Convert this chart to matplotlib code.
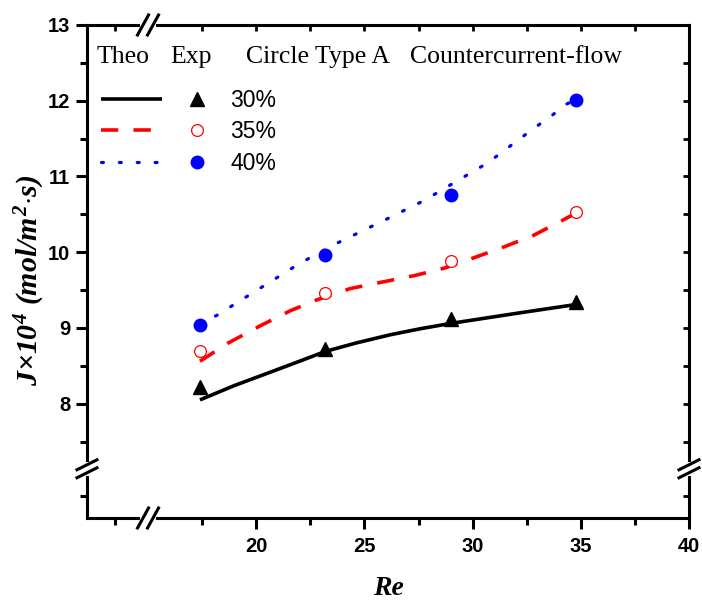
import matplotlib
matplotlib.use("Agg")
import matplotlib.pyplot as plt
from matplotlib.legend_handler import HandlerTuple

# ---------------- data ----------------
re_exp = [17.4, 23.2, 29.0, 34.8]
exp_30 = [8.22, 8.72, 9.12, 9.34]
exp_35 = [8.70, 9.46, 9.88, 10.53]
exp_40 = [9.04, 9.96, 10.76, 12.01]

theo_x30 = [17.4, 19.0, 20.6, 22.0, 23.2, 24.6, 26.2, 27.6, 29.0, 30.6, 32.2, 34.8]
theo_y30 = [8.05, 8.24, 8.41, 8.56, 8.69, 8.80, 8.91, 8.99, 9.06, 9.13, 9.20, 9.31]
theo_x35 = [17.4, 18.7, 20.2, 21.6, 22.8, 24.35, 25.9, 27.3, 28.7, 29.9, 31.45, 32.8, 34.15, 34.8]
theo_y35 = [8.56, 8.80, 9.03, 9.23, 9.37, 9.52, 9.61, 9.69, 9.79, 9.91, 10.07, 10.22, 10.42, 10.52]
theo_x40 = [17.4, 18.2, 22.0, 23.6, 26.05, 27.6, 28.4, 29.1, 30.7, 32.85, 33.6, 34.3, 34.8]
theo_y40 = [9.04, 9.17, 9.85, 10.10, 10.44, 10.66, 10.79, 10.91, 11.18, 11.64, 11.79, 11.95, 12.02]

series_labels = ["30%", "35%", "40%"]
header_texts = ["Theo", "Exp", "Circle Type A", "Countercurrent-flow"]
x_major = [20, 25, 30, 35, 40]
x_minor = [13.47, 17.5, 22.5, 27.5, 32.5, 37.5]
y_major = [8, 9, 10, 11, 12, 13]
y_minor = [6.78, 7.5, 8.5, 9.5, 10.5, 11.5, 12.5]
x_break = 15.0
y_break = 7.14

# ---------------- figure ----------------
plt.rcParams['mathtext.fontset'] = 'custom'
plt.rcParams['mathtext.rm'] = 'Liberation Serif:bold:italic'
plt.rcParams['mathtext.it'] = 'Liberation Serif:bold:italic'
plt.rcParams['mathtext.bf'] = 'Liberation Serif:bold:italic'

W, H = 702, 601
fig = plt.figure(figsize=(W / 100, H / 100), dpi=100)
L, R, T, B = 87, 689, 25, 518
ax = fig.add_axes([L / W, 1 - B / H, (R - L) / W, (B - T) / H])
axw, axh = R - L, B - T

xlim = (12.18, 40.0)
ylim = (6.49, 13.0)
ax.set_xlim(*xlim)
ax.set_ylim(*ylim)

# theory curves
l30, = ax.plot(theo_x30, theo_y30, color='black', lw=2.6, solid_capstyle='butt',
               solid_joinstyle='round', zorder=3)
l35, = ax.plot(theo_x35, theo_y35, color='#ff0000', lw=2.6, linestyle=(0, (4.8, 4.2)),
               dash_capstyle='butt', zorder=3)
l40, = ax.plot(theo_x40, theo_y40, color='#0000ff', lw=2.3, linestyle=(0, (0.6, 5.0)),
               dash_capstyle='round', zorder=3)

# experimental points
m30, = ax.plot(re_exp, exp_30, linestyle='none', marker='^', ms=10.5, color='black', zorder=4)
m35, = ax.plot(re_exp, exp_35, linestyle='none', marker='o', ms=8.5, mfc='white',
               mec='#ff0000', mew=0.9, zorder=4)
m40, = ax.plot(re_exp, exp_40, linestyle='none', marker='o', ms=9, color='#0000ff', zorder=4)

# spines & ticks
for s in ax.spines.values():
    s.set_linewidth(2.2)
ax.set_xticks(x_major)
ax.set_xticks(x_minor, minor=True)
ax.set_yticks(y_major)
ax.set_yticks(y_minor, minor=True)
ax.tick_params(which='major', direction='out', length=8, width=2.2,
               labelsize=14.5, bottom=True, left=True, top=False, right=False)
ax.tick_params(which='minor', direction='out', length=5, width=2.2,
               bottom=True, left=True, top=False, right=False)
ax.tick_params(axis='x', which='major', pad=6)
ax.tick_params(axis='y', which='major', pad=4)
for lab in ax.get_xticklabels() + ax.get_yticklabels():
    lab.set_fontfamily('Liberation Sans'); lab.set_fontweight('bold')

# inward ticks on top and right via secondary axes
ax2 = ax.secondary_xaxis('top')
ax2.set_xticks(x_major + x_minor)
ax2.tick_params(direction='in', length=4, width=2.0, labeltop=False)
ax2.spines['top'].set_visible(False)
ax3 = ax.secondary_yaxis('right')
ax3.set_yticks(y_major + y_minor)
ax3.tick_params(direction='in', length=4, width=2.0, labelright=False)
ax3.spines['right'].set_visible(False)

# axis labels
ax.set_xlabel('Re', fontfamily='Liberation Serif', fontstyle='italic',
              fontweight='bold', fontsize=20)
ax.xaxis.label.set_va('baseline')
ax.xaxis.set_label_coords((388 - L) / axw, (B - 595) / axh)
ax.set_ylabel(r'$J{\times}10^{4}\ (mol/m^{2}{\cdot}s)$', fontsize=21.5)
ax.yaxis.set_label_coords((47 - L) / axw, (B - 280) / axh)

# break marks
def px2ax(xp, yp):
    return (xp - L) / axw, (B - yp) / axh

def xbreak(xd, yp):
    xp = L + (xd - xlim[0]) / (xlim[1] - xlim[0]) * axw
    a = px2ax(xp - 8, yp); b = px2ax(xp + 8, yp)
    ax.plot([a[0], b[0]], [a[1], b[1]], transform=ax.transAxes, color='white',
            lw=4, clip_on=False, zorder=10, solid_capstyle='butt')
    for off in (-5, 5):
        p = px2ax(xp + off - 5.5, yp + 10); q = px2ax(xp + off + 5.5, yp - 10)
        ax.plot([p[0], q[0]], [p[1], q[1]], transform=ax.transAxes, color='black',
                lw=2.2, clip_on=False, zorder=11)

def ybreak(xp, yd):
    yp = B - (yd - ylim[0]) / (ylim[1] - ylim[0]) * axh
    a = px2ax(xp, yp - 7); b = px2ax(xp, yp + 7)
    ax.plot([a[0], b[0]], [a[1], b[1]], transform=ax.transAxes, color='white',
            lw=4, clip_on=False, zorder=10, solid_capstyle='butt')
    for off in (-4, 4):
        p = px2ax(xp - 10, yp + off + 5); q = px2ax(xp + 10, yp + off - 5)
        ax.plot([p[0], q[0]], [p[1], q[1]], transform=ax.transAxes, color='black',
                lw=2.2, clip_on=False, zorder=11)

xbreak(x_break, B)
xbreak(x_break, T)
ybreak(L, y_break)
ybreak(R, y_break)

# header texts
header_x = [97, 170, 246, 410]
for txt, xp in zip(header_texts, header_x):
    xa, ya = px2ax(xp, 63)
    ax.text(xa, ya, txt, transform=ax.transAxes, fontfamily='Liberation Serif',
            fontsize=18.5, va='baseline', ha='left')

# legend
leg = ax.legend([(l30, m30), (l35, m35), (l40, m40)], series_labels,
                handler_map={tuple: HandlerTuple(ndivide=None, pad=0.2)},
                loc='upper left', bbox_to_anchor=px2ax(101, 89),
                frameon=False, handlelength=5.5, handletextpad=0.13,
                labelspacing=0.37, borderpad=0, borderaxespad=0,
                prop={'family': 'Liberation Sans', 'size': 16.5})

fig.savefig('out.png', dpi=100)
